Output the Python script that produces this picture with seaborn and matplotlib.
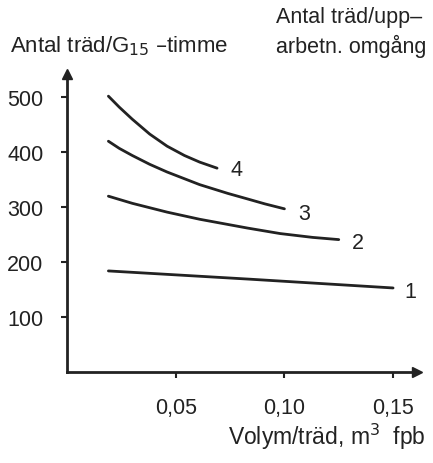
import matplotlib
matplotlib.use("Agg")
import matplotlib.pyplot as plt
import seaborn as sns
import pandas as pd

# Trees per G15-hour against tree volume, one curve per number of trees per processing cycle
vol_4 = [0.019, 0.024, 0.030, 0.038, 0.046, 0.054, 0.061, 0.069]
trees_4 = [502, 482, 460, 433, 411, 394, 382, 371]
vol_3 = [0.019, 0.024, 0.030, 0.038, 0.046, 0.061, 0.074, 0.083, 0.091, 0.100]
trees_3 = [420, 407, 394, 378, 364, 341, 325, 315, 306, 297]
vol_2 = [0.019, 0.030, 0.046, 0.061, 0.083, 0.098, 0.113, 0.125]
trees_2 = [320, 307, 291, 278, 262, 252, 245, 241]
vol_1 = [0.019, 0.084, 0.150]
trees_1 = [184, 169, 153]
curve_labels = ["1", "2", "3", "4"]
y_ticks = [100, 200, 300, 400, 500]
x_ticks = [0.05, 0.10, 0.15]
x_tick_labels = ["0,05", "0,10", "0,15"]

sns.set_style("white")
plt.rcParams["font.family"] = ["Liberation Sans", "DejaVu Sans"]
ink = "#222222"

fig = plt.figure(figsize=(4.33, 4.64), dpi=100)
ax = fig.add_axes([0.155, 0.196, 0.808, 0.642])

curves = [(vol_1, trees_1), (vol_2, trees_2), (vol_3, trees_3), (vol_4, trees_4)]
label_pos = [(0.158, 147), (0.134, 236), (0.109, 289), (0.078, 369)]
for (xs, ys), lab, (lx, ly) in zip(curves, curve_labels, label_pos):
    df = pd.DataFrame({"vol": xs, "trees": ys})
    sns.lineplot(data=df, x="vol", y="trees", ax=ax, color=ink,
                 linewidth=2.0, estimator=None, sort=True)
    ax.text(lx, ly, lab, fontsize=15.5, ha="center", va="center", color=ink)

ax.set_xlim(0, 0.161)
ax.set_ylim(0, 542)
ax.set_xticks(x_ticks)
ax.set_xticklabels(x_tick_labels)
ax.set_yticks(y_ticks)
ax.tick_params(axis="both", bottom=True, left=True, labelsize=15.5, colors=ink,
               length=4, width=1.5, direction="out")
ax.tick_params(axis="x", pad=14)
ax.tick_params(axis="y", pad=13)
for side in ["top", "right"]:
    ax.spines[side].set_visible(False)
for side in ["left", "bottom"]:
    ax.spines[side].set_linewidth(2)
    ax.spines[side].set_color(ink)
ax.set_xlabel("")
ax.set_ylabel("")

# arrowheads at the axis ends
ax.plot(0, 1, marker="^", markersize=7, color=ink, transform=ax.transAxes, clip_on=False)
ax.plot(1, 0, marker=">", markersize=7, color=ink, transform=ax.transAxes, clip_on=False)

fig.text(0.023, 0.90, "Antal träd/G$_{15}$ –timme", fontsize=16, color=ink,
         ha="left", va="center")
fig.text(0.638, 0.962, "Antal träd/upp–", fontsize=15.5, color=ink, ha="left", va="center")
fig.text(0.638, 0.90, "arbetn. omgång", fontsize=15.5, color=ink, ha="left", va="center")
fig.text(0.982, 0.058, "Volym/träd, m$^3$  fpb", fontsize=16.5, color=ink,
         ha="right", va="center")

fig.savefig("out.png", dpi=100)
